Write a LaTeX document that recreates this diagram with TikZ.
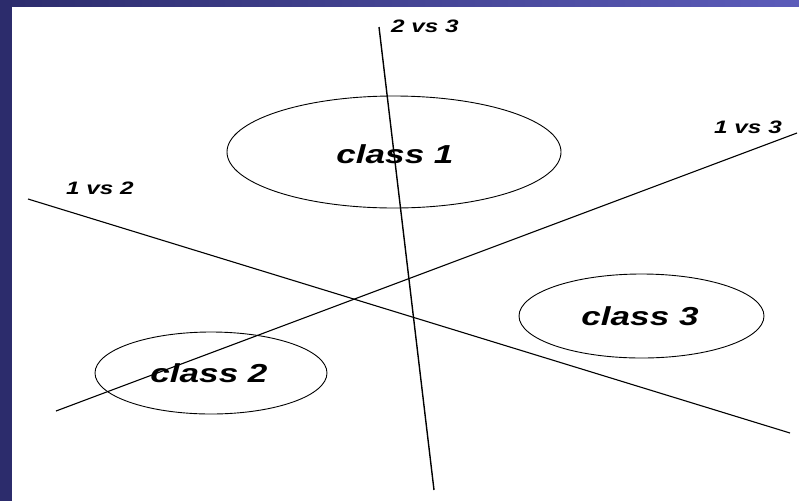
\documentclass[tikz,border=0pt]{standalone}
\usepackage{fontspec}
\setmainfont{Liberation Sans}
\usepackage{graphicx}
\definecolor{navydark}{RGB}{44,44,108}
\definecolor{navylight}{RGB}{92,92,186}
\begin{document}
\begin{tikzpicture}[x=1pt,y=-1pt,
  sep/.style={draw=black,line width=1.1pt},
  cls/.style={draw=black,line width=0.9pt},
  clstext/.style={inner sep=0pt,font=\fontsize{26}{26}\selectfont\bfseries\itshape},
  lbltext/.style={inner sep=0pt,font=\fontsize{18}{18}\selectfont\bfseries\itshape}]
\useasboundingbox (0,0) rectangle (799,501);
\fill[white] (0,0) rectangle (799,501);
% border
\shade[left color=navydark,right color=navylight] (0,0) rectangle (799,6);
\fill[navydark] (0,0) rectangle (12,501);
% ellipses
\draw[cls] (394,152) ellipse [x radius=167,y radius=56];
\draw[cls] (211,373) ellipse [x radius=116,y radius=41];
\draw[cls] (641.5,316) ellipse [x radius=122.5,y radius=42];
% separating lines
\coordinate (a1) at (28,199);
\coordinate (a2) at (790,433);
\coordinate (b1) at (56,411);
\coordinate (b2) at (797,133);
\coordinate (c1) at (379,27);
\coordinate (c2) at (434,490);
\draw[sep] (a1) -- (a2);
\draw[sep] (b1) -- (b2);
\draw[sep,line width=1.4pt] (c1) -- (c2);
% class labels
\node[clstext] (t1) at (395,154) {\scalebox{1.35}[1]{class 1}};
\node[clstext] (t2) at (209,373) {\scalebox{1.35}[1]{class 2}};
\node[clstext] (t3) at (640,316) {\scalebox{1.35}[1]{class 3}};
% line labels
\node[lbltext] (l12) at (100,188) {\scalebox{1.35}[1]{1 vs 2}};
\node[lbltext] (l13) at (748,127) {\scalebox{1.35}[1]{1 vs 3}};
\node[lbltext] (l23) at (425,26) {\scalebox{1.35}[1]{2 vs 3}};
\end{tikzpicture}
\end{document}
